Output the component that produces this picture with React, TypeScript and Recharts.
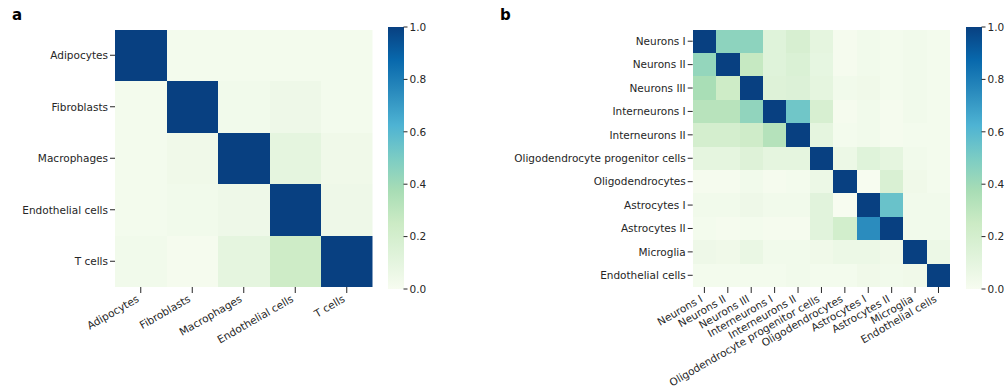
import React from 'react';
import { ScatterChart, Scatter, XAxis, YAxis, BarChart, Bar } from 'recharts';

// Panel a: peripheral tissue cell types
const tissueTypes = ['Adipocytes', 'Fibroblasts', 'Macrophages', 'Endothelial cells', 'T cells'];
const tissueSimilarity = [
  [1.0, 0.02, 0.02, 0.02, 0.02],
  [0.02, 1.0, 0.03, 0.05, 0.02],
  [0.02, 0.04, 1.0, 0.1, 0.04],
  [0.02, 0.03, 0.05, 1.0, 0.05],
  [0.03, 0.01, 0.1, 0.24, 1.0],
];

// Panel b: brain cell types
const brainTypes = [
  'Neurons I',
  'Neurons II',
  'Neurons III',
  'Interneurons I',
  'Interneurons II',
  'Oligodendrocyte progenitor cells',
  'Oligodendrocytes',
  'Astrocytes I',
  'Astrocytes II',
  'Microglia',
  'Endothelial cells',
];
const brainSimilarity = [
  [1.0, 0.45, 0.45, 0.13, 0.18, 0.1, 0.01, 0.03, 0.02, 0.03, 0.02],
  [0.43, 1.0, 0.27, 0.13, 0.16, 0.09, 0.01, 0.03, 0.02, 0.03, 0.02],
  [0.37, 0.24, 1.0, 0.14, 0.15, 0.1, 0.03, 0.04, 0.02, 0.03, 0.02],
  [0.32, 0.32, 0.44, 1.0, 0.53, 0.18, 0.01, 0.03, 0.01, 0.03, 0.02],
  [0.2, 0.2, 0.23, 0.33, 1.0, 0.1, 0.02, 0.03, 0.01, 0.02, 0.02],
  [0.1, 0.1, 0.14, 0.1, 0.1, 1.0, 0.06, 0.13, 0.1, 0.03, 0.02],
  [0.01, 0.01, 0.03, 0.01, 0.02, 0.06, 1.0, 0.0, 0.17, 0.04, 0.02],
  [0.03, 0.03, 0.05, 0.03, 0.03, 0.12, 0.0, 1.0, 0.55, 0.03, 0.03],
  [0.02, 0.01, 0.02, 0.01, 0.01, 0.12, 0.21, 0.75, 1.0, 0.03, 0.03],
  [0.05, 0.04, 0.07, 0.03, 0.03, 0.04, 0.06, 0.06, 0.04, 1.0, 0.06],
  [0.02, 0.02, 0.02, 0.02, 0.03, 0.02, 0.02, 0.04, 0.03, 0.04, 1.0],
];

const colorbarTicks = [0, 0.2, 0.4, 0.6, 0.8, 1.0];

// GnBu colour map stops, low to high
const GNBU = ['#f7fcf0', '#e0f3db', '#ccebc5', '#a8ddb5', '#7bccc4', '#4eb3d3', '#2b8cbe', '#0868ac', '#084081'];

const hexToRgb = (h: string) => [1, 3, 5].map((i) => parseInt(h.slice(i, i + 2), 16));

function gnbu(v: number): string {
  const c = Math.max(0, Math.min(1, v)) * (GNBU.length - 1);
  const i = Math.min(Math.floor(c), GNBU.length - 2);
  const t = c - i;
  const a = hexToRgb(GNBU[i]);
  const b = hexToRgb(GNBU[i + 1]);
  const m = a.map((x, k) => Math.round(x + (b[k] - x) * t));
  return `rgb(${m[0]},${m[1]},${m[2]})`;
}

const FONT = 'DejaVu Sans, sans-serif';
const TEXT = '#262626';
const FS = 10.5;
const GRID = 257.5; // heatmap side length
const TOP = 29.5;
const HEIGHT = 388;

type HeatmapProps = {
  labels: string[];
  values: number[][];
  left: number;
  axisWidth: number;
};

function Heatmap({ labels, values, left, axisWidth }: HeatmapProps) {
  const n = labels.length;
  const cell = GRID / n;
  const cells = values.flatMap((row, r) => row.map((v, c) => ({ x: c + 0.5, y: r + 0.5, v })));
  const ticks = labels.map((_, i) => i + 0.5);
  const nameOf = (t: number) => labels[Math.floor(t)] ?? '';
  const width = axisWidth + GRID + 5;

  // rotated category labels under the grid
  const XTick = (props: any) => {
    const { x, y, payload } = props;
    const bx = x - 1;
    const by = y + 6;
    return (
      <text
        x={bx}
        y={by}
        textAnchor="end"
        transform={`rotate(-30 ${bx} ${by})`}
        fontSize={FS}
        fontFamily={FONT}
        fill={TEXT}
      >
        {nameOf(payload.value)}
      </text>
    );
  };

  // single-line row labels, right aligned against the tick marks
  const YTick = (props: any) => {
    const { x, y, payload } = props;
    return (
      <text x={x} y={y} dy="0.36em" textAnchor="end" fontSize={FS} fontFamily={FONT} fill={TEXT}>
        {nameOf(payload.value)}
      </text>
    );
  };

  return (
    <div style={{ position: 'absolute', left, top: 0 }}>
      <ScatterChart
        width={width}
        height={HEIGHT}
        margin={{ top: TOP, right: 5, bottom: 0, left: 0 }}
        style={{ overflow: 'visible' }}
      >
        <XAxis
          type="number"
          dataKey="x"
          domain={[0, n]}
          ticks={ticks}
          interval={0}
          allowDataOverflow
          axisLine={false}
          tickLine={{ stroke: TEXT, strokeWidth: 1 }}
          tickSize={6}
          tickMargin={2}
          height={HEIGHT - TOP - GRID}
          tick={<XTick />}
        />
        <YAxis
          type="number"
          dataKey="y"
          domain={[0, n]}
          reversed
          ticks={ticks}
          interval={0}
          allowDataOverflow
          axisLine={false}
          tickLine={{ stroke: TEXT, strokeWidth: 1 }}
          tickSize={5}
          tickMargin={2}
          width={axisWidth}
          tick={<YTick />}
        />
        <Scatter
          data={cells}
          isAnimationActive={false}
          shape={(p: any) => (
            <rect
              x={p.cx - cell / 2}
              y={p.cy - cell / 2}
              width={cell}
              height={cell}
              fill={gnbu(p.payload.v)}
              shapeRendering="crispEdges"
            />
          )}
        />
      </ScatterChart>
    </div>
  );
}

function Colorbar({ id, left }: { id: string; left: number }) {
  const barWidth = 15.5;
  return (
    <div style={{ position: 'absolute', left, top: 17 }}>
      <BarChart
        width={barWidth + 40}
        height={282}
        data={[{ name: 'scale', v: 1 }]}
        margin={{ top: 10, right: 0, bottom: 10, left: 0 }}
        barCategoryGap={0}
      >
        <defs>
          <linearGradient id={id} x1="0" y1="0" x2="0" y2="1">
            {GNBU.slice()
              .reverse()
              .map((c, i) => (
                <stop key={c} offset={`${(i / (GNBU.length - 1)) * 100}%`} stopColor={c} />
              ))}
          </linearGradient>
        </defs>
        <XAxis dataKey="name" hide />
        <YAxis
          orientation="right"
          type="number"
          domain={[0, 1]}
          ticks={colorbarTicks}
          interval={0}
          axisLine={false}
          tickLine={{ stroke: TEXT, strokeWidth: 1 }}
          tickSize={4}
          tickMargin={2}
          width={40}
          tickFormatter={(v: number) => v.toFixed(1)}
          tick={{ fontSize: FS, fontFamily: FONT, fill: TEXT, textAnchor: 'start' }}
        />
        <Bar dataKey="v" fill={`url(#${id})`} isAnimationActive={false} />
      </BarChart>
    </div>
  );
}

export default function App() {
  return (
    <div
      style={{
        position: 'absolute',
        left: 0,
        top: 0,
        width: 1005,
        height: HEIGHT,
        background: '#ffffff',
        fontFamily: FONT,
        overflow: 'hidden',
      }}
    >
      <Heatmap labels={tissueTypes} values={tissueSimilarity} left={0} axisWidth={115} />
      <Colorbar id="cbarA" left={387.7} />
      <Heatmap labels={brainTypes} values={brainSimilarity} left={490} axisWidth={202.7} />
      <Colorbar id="cbarB" left={965.5} />
      <div style={{ position: 'absolute', left: 12, top: 6, fontSize: 15, fontWeight: 'bold', color: '#000' }}>a</div>
      <div style={{ position: 'absolute', left: 500, top: 6, fontSize: 15, fontWeight: 'bold', color: '#000' }}>b</div>
    </div>
  );
}
